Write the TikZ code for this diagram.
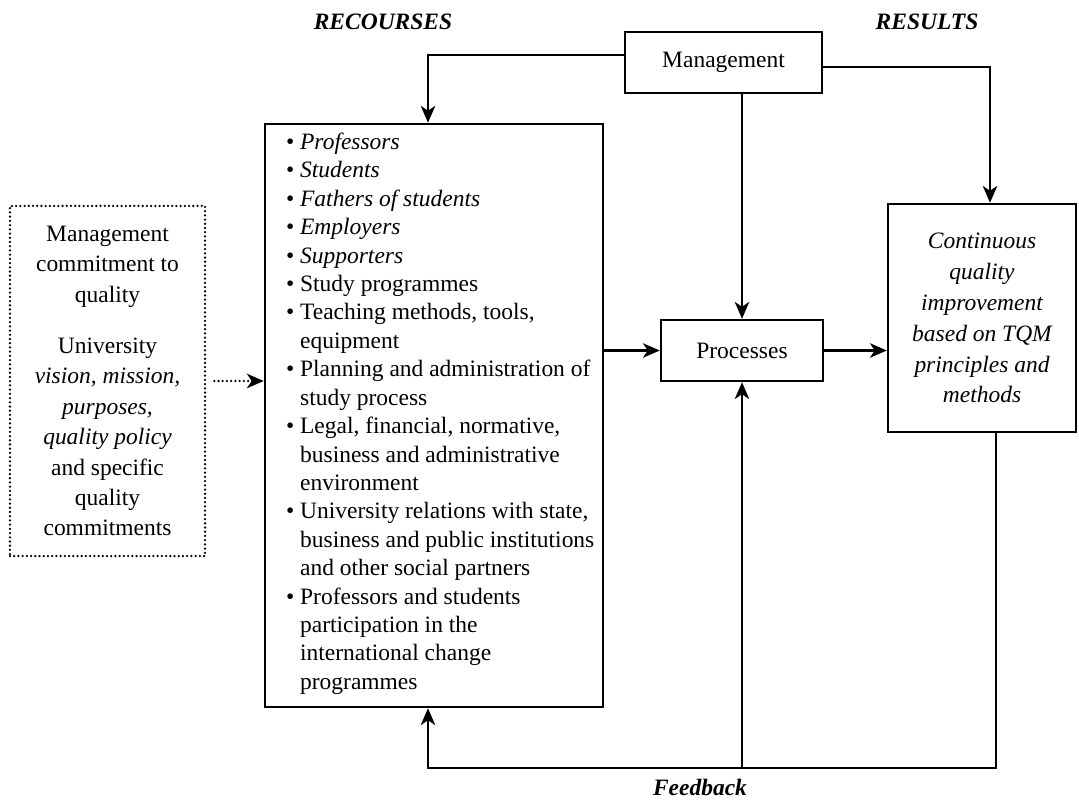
\documentclass[tikz,border=0pt]{standalone}
\usepackage{fontspec}
\setmainfont{Liberation Serif}
\usetikzlibrary{arrows.meta}

\newcommand{\itm}{\textbullet\ }
\newcommand{\contline}{\hphantom{\textbullet\ }}

\begin{document}
\begin{tikzpicture}[x=0.025cm, y=-0.025cm,
	font=\fontsize{16.7}{20.2}\selectfont,
	box/.style={draw, line width=1.7pt, inner sep=0pt},
	dotbox/.style={draw, line width=1.8pt, line cap=round, dash pattern=on 0pt off 3pt, inner sep=0pt},
	arr/.style={line width=1.7pt, -{Stealth[length=0.42cm, width=0.36cm, inset=0.12cm]}},
	head/.style={font=\fontsize{16.7}{20.2}\selectfont\bfseries\itshape}]
	\useasboundingbox (0,0) rectangle (1079,800);

	% Headings
	\node[head] (hres) at (383, 22) {RECOURSES};
	\node[head] (hout) at (927, 22) {RESULTS};

	% Boxes
	\node[box, minimum width=4.925cm, minimum height=1.525cm] (mgmt) at (723.5, 62.5) {Management};
	\node[box, minimum width=8.45cm, minimum height=14.575cm] (res) at (434, 415.5) {};
	\node[box, minimum width=4.05cm, minimum height=1.525cm] (proc) at (742, 350.5) {Processes};
	\node[box, minimum width=4.7cm, minimum height=5.7cm, align=center,
		font=\fontsize{16.7}{22}\selectfont\itshape] (rbox) at (982, 318)
		{Continuous\\quality\\improvement\\based on TQM\\principles and\\methods};
	\node[dotbox, minimum width=4.875cm, minimum height=8.75cm, align=center,
		font=\fontsize{16.7}{21.6}\selectfont] (commit) at (107.5, 381)
		{Management\\commitment to\\quality\\[15pt]University\\\textit{vision, mission,}\\\textit{purposes,}\\\textit{quality policy}\\and specific\\quality\\commitments};

	% List of resources
	\node[anchor=north west, align=left, inner sep=0pt] (reslist) at ([xshift=0.55cm, yshift=-0.25cm]res.north west)
		{\itm\textit{Professors}\\
		\itm\textit{Students}\\
		\itm\textit{Fathers of students}\\
		\itm\textit{Employers}\\
		\itm\textit{Supporters}\\
		\itm Study programmes\\
		\itm Teaching methods, tools,\\
		\contline equipment\\
		\itm Planning and administration of\\
		\contline study process\\
		\itm Legal, financial, normative,\\
		\contline business and administrative\\
		\contline environment\\
		\itm University relations with state,\\
		\contline business and public institutions\\
		\contline and other social partners\\
		\itm Professors and students\\
		\contline participation in the\\
		\contline international change\\
		\contline programmes};

	% Feedback loop corners
	\coordinate (fbl) at (428, 768);
	\coordinate (fbr) at (996, 768);
	\node[head] (fb) at (700, 787) {Feedback};

	% Connections
	\draw[arr] ([yshift=0.19cm]mgmt.west) -| ([xshift=-0.15cm]res.north);
	\draw[arr] ([yshift=-0.11cm]mgmt.east) -| ([xshift=0.2cm]rbox.north);
	\draw[arr] (mgmt.south -| proc.north) -- (proc.north);
	\draw[arr] (res.east |- proc.west) -- (proc.west);
	\draw[arr] (proc.east) -- (proc.east -| rbox.west);
	\draw[arr, line width=1.8pt, line cap=round, dash pattern=on 0pt off 3pt, shorten <=0.2cm] (commit.east) -- (commit.east -| res.west);
	\draw[arr] (rbox.south -| fbr) -- (fbr) -- (fbl) -- (fbl |- res.south);
	\draw[arr] (proc.south |- fbl) -- (proc.south);
\end{tikzpicture}
\end{document}
